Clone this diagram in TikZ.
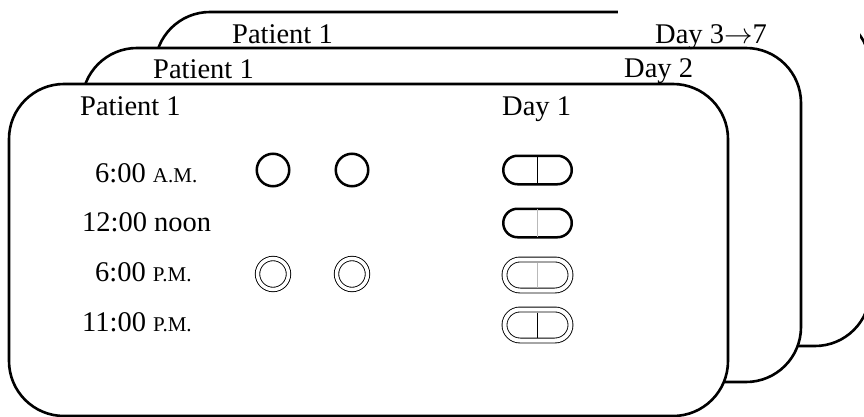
\RequirePackage{fix-cm}
\documentclass[tikz,border=0pt]{standalone}
\usepackage{fontspec}
\setmainfont{Liberation Serif}
\newcommand\labsize{\fontsize{28.5}{32}\selectfont}
\newcommand\smcap[1]{{\fontsize{21}{22}\selectfont #1}}
\begin{document}
\begin{tikzpicture}[x=1pt,y=-1pt,
  card/.style={line width=2.6pt, fill=white, rounded corners=55pt},
  txt/.style={font=\labsize, anchor=base west, inner sep=0pt},
  pill/.style={draw, line width=2.5pt, rectangle, rounded corners=14.25pt,
    minimum width=68.5pt, minimum height=28.5pt, inner sep=0pt, outer sep=0pt},
  dpill/.style={draw, line width=0.9pt, double, double distance=4pt, rectangle,
    rounded corners=15.5pt, minimum width=66pt, minimum height=31pt,
    inner sep=0pt, outer sep=0pt},
  dot/.style={draw, circle, line width=2.5pt, minimum size=32.5pt, inner sep=0pt},
  ddot/.style={draw, circle, line width=0.9pt, double, double distance=3.5pt,
    minimum size=31pt, inner sep=0pt, outer sep=0pt},
  divide/.style={line width=1pt},
  softdivide/.style={line width=1.2pt, gray!55}]
\useasboundingbox (0,0) rectangle (864,417);
\clip (0,0) rectangle (864,417);

% stacked day cards, back to front
\draw[card] (155,12) rectangle (870,346);
\fill[white] (618,-2) rectangle (860,44);
\draw[card] (82,48) rectangle (801,382);
\draw[card] (9,84) rectangle (728,416);

% card headings
\node[txt] (pat3) at (232,44) {Patient 1};
\node[txt] (pat2) at (153,79) {Patient 1};
\node[txt] (pat1) at (80,116) {Patient 1};
\node[txt] (day3) at (655,44) {Day 3$\rightarrow$7};
\node[txt] (day2) at (624,78) {Day 2};
\node[txt] (day1) at (502,116) {Day 1};

% dosing times
\node[txt] (t1) at (95,182) {6:00 \smcap{A.M.}};
\node[txt] (t2) at (82,231) {12:00 noon};
\node[txt] (t3) at (95,281) {6:00 \smcap{P.M.}};
\node[txt] (t4) at (82,331) {11:00 \smcap{P.M.}};

% round tablets
\node[dot] (c11) at (273,170) {};
\node[dot] (c12) at (352,170) {};
\node[ddot] (c31) at (273,274) {};
\node[ddot] (c32) at (352,274) {};

% scored capsules
\node[pill] (k1) at (537.5,170) {};
\draw[divide] (k1.north) -- (k1.south);
\node[pill] (k2) at (537.5,223) {};
\draw[softdivide] (k2.north) -- (k2.south);
\node[dpill] (k3) at (537.5,275) {};
\draw[softdivide] ([yshift=-3pt]k3.north) -- ([yshift=3pt]k3.south);
\node[dpill] (k4) at (537.5,325) {};
\draw[divide, line width=0.8pt] ([yshift=-3pt]k4.north) -- ([yshift=3pt]k4.south);
\end{tikzpicture}
\end{document}
